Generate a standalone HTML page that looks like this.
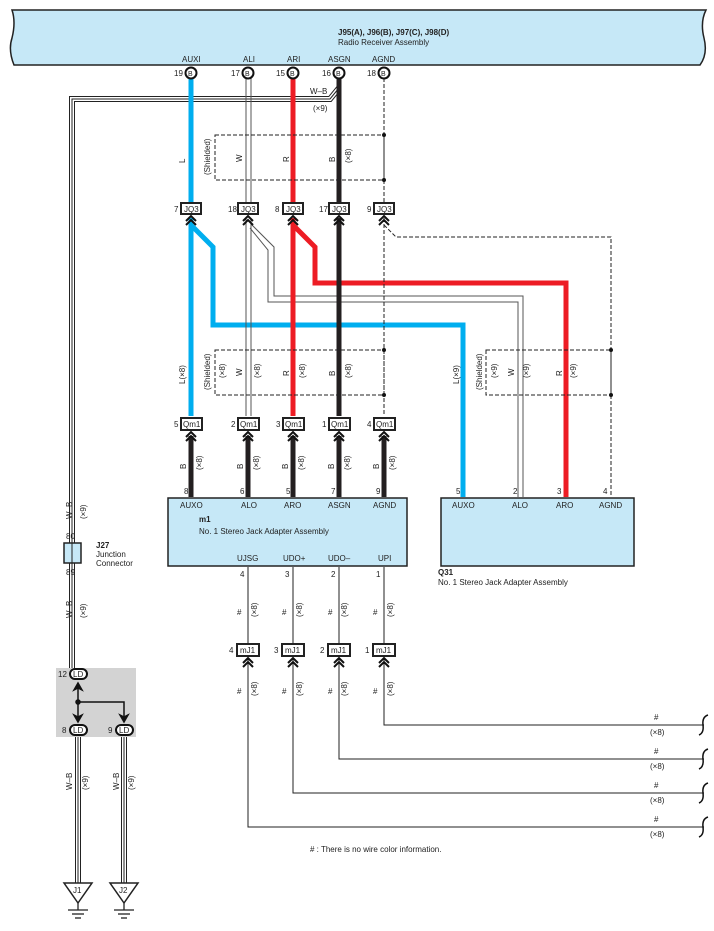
<!DOCTYPE html>
<html><head><meta charset="utf-8"><style>
html,body{margin:0;padding:0;background:#fff}
svg{display:block}
text{font-family:"Liberation Sans",sans-serif;font-size:8px;fill:#222}
.b{font-weight:bold}
</style></head><body>
<svg width="714" height="931" viewBox="0 0 714 931" xmlns="http://www.w3.org/2000/svg">
<defs>
<g id="chev"><path d="M-5,5 L0,0 L5,5 M-5,9 L0,4 L5,9" fill="none" stroke="#111" stroke-width="2"/></g>
</defs>
<!-- header -->
<path d="M12,10 L706,10 Q700,22 704,38 Q708,54 700,65 L14,65 Q8,50 12,38 Q16,22 12,10 Z" fill="#c6e8f7" stroke="#222" stroke-width="1.5"/>
<text x="338" y="35" class="b">J95(A), J96(B), J97(C), J98(D)</text>
<text x="338" y="45">Radio Receiver Assembly</text>
<text x="182" y="62">AUXI</text><text x="243" y="62">ALI</text><text x="287" y="62">ARI</text><text x="328" y="62">ASGN</text><text x="372" y="62">AGND</text>

<!-- W-B wire from ASGN -->
<g fill="none" stroke-linejoin="miter">
<path d="M339,88 L330,99 L72,99 L72,545" stroke="#222" stroke-width="6"/>
<path d="M339,88 L330,99 L72,99 L72,545" stroke="#fff" stroke-width="4"/>
<path d="M339,88 L330,99 L72,99 L72,545" stroke="#222" stroke-width="1"/>
<path d="M72,560 L72,670" stroke="#222" stroke-width="6"/><path d="M72,560 L72,670" stroke="#fff" stroke-width="4"/><path d="M72,560 L72,670" stroke="#222" stroke-width="1"/>
<path d="M78,737 L78,885" stroke="#222" stroke-width="6"/><path d="M78,737 L78,885" stroke="#fff" stroke-width="4"/><path d="M78,737 L78,885" stroke="#222" stroke-width="1"/>
<path d="M124,737 L124,885" stroke="#222" stroke-width="6"/><path d="M124,737 L124,885" stroke="#fff" stroke-width="4"/><path d="M124,737 L124,885" stroke="#222" stroke-width="1"/>
</g>
<text x="310" y="94" >W–B</text><text x="313" y="111">(×9)</text>

<!-- main wires top segment -->
<line x1="191" y1="78" x2="191" y2="205" stroke="#00aeef" stroke-width="5"/>
<line x1="246" y1="78" x2="246" y2="205" stroke="#555" stroke-width="1"/><line x1="251" y1="78" x2="251" y2="205" stroke="#555" stroke-width="1"/>
<line x1="293" y1="78" x2="293" y2="205" stroke="#ed1c24" stroke-width="5"/>
<line x1="339" y1="78" x2="339" y2="205" stroke="#231f20" stroke-width="5"/>
<line x1="384" y1="78" x2="384" y2="205" stroke="#222" stroke-width="1" stroke-dasharray="4,2"/>
<!-- shield 1 -->
<rect x="215" y="135" width="169" height="45" fill="none" stroke="#222" stroke-width="1" stroke-dasharray="4,2"/>
<circle cx="384" cy="135" r="2" fill="#111"/><circle cx="384" cy="180" r="2" fill="#111"/>

<!-- branches -->
<path d="M191,225 L213,247 L213,325 L463,325 L463,497" fill="none" stroke="#00aeef" stroke-width="5"/>
<path d="M293,225 L315,247 L315,283 L566,283 L566,497" fill="none" stroke="#ed1c24" stroke-width="5"/>
<path d="M250,228 L268,250 L268,302 L518,302 L518,497" fill="none" stroke="#555" stroke-width="1"/>
<path d="M252,225 L274,247 L274,296 L523,296 L523,497" fill="none" stroke="#555" stroke-width="1"/>
<path d="M384,225 L396,237 L611,237 L611,497" fill="none" stroke="#222" stroke-width="1" stroke-dasharray="4,2"/>

<!-- main wires middle segment -->
<line x1="191" y1="218" x2="191" y2="416" stroke="#00aeef" stroke-width="5"/>
<line x1="246" y1="218" x2="246" y2="416" stroke="#555" stroke-width="1"/><line x1="251" y1="218" x2="251" y2="416" stroke="#555" stroke-width="1"/>
<line x1="293" y1="218" x2="293" y2="416" stroke="#ed1c24" stroke-width="5"/>
<line x1="339" y1="218" x2="339" y2="416" stroke="#231f20" stroke-width="5"/>
<line x1="384" y1="218" x2="384" y2="416" stroke="#222" stroke-width="1" stroke-dasharray="4,2"/>
<rect x="215" y="350" width="169" height="45" fill="none" stroke="#222" stroke-width="1" stroke-dasharray="4,2"/>
<circle cx="384" cy="350" r="2" fill="#111"/><circle cx="384" cy="395" r="2" fill="#111"/>
<rect x="486" y="350" width="125" height="45" fill="none" stroke="#222" stroke-width="1" stroke-dasharray="4,2"/>
<circle cx="611" cy="350" r="2" fill="#111"/><circle cx="611" cy="395" r="2" fill="#111"/>

<!-- lower black wires -->
<g stroke="#231f20" stroke-width="5">
<line x1="191" y1="436" x2="191" y2="497"/><line x1="248" y1="436" x2="248" y2="497"/><line x1="293" y1="436" x2="293" y2="497"/><line x1="339" y1="436" x2="339" y2="497"/><line x1="384" y1="436" x2="384" y2="497"/>
</g>

<!-- pins B -->
<g fill="#fff" stroke="#111" stroke-width="2">
<circle cx="191" cy="73" r="5.5"/><circle cx="248" cy="73" r="5.5"/><circle cx="293" cy="73" r="5.5"/><circle cx="339" cy="73" r="5.5"/><circle cx="384" cy="73" r="5.5"/>
</g>
<g>
<text x="188" y="76" style="font-size:7px">B</text><text x="245" y="76" style="font-size:7px">B</text><text x="290" y="76" style="font-size:7px">B</text><text x="336" y="76" style="font-size:7px">B</text><text x="381" y="76" style="font-size:7px">B</text>
</g>
<text x="174" y="76">19</text><text x="231" y="76">17</text><text x="276" y="76">15</text><text x="322" y="76">16</text><text x="367" y="76">18</text>

<!-- JQ3 connectors -->
<g fill="#fff" stroke="#222" stroke-width="2">
<rect x="181" y="203" width="20" height="11"/><rect x="238" y="203" width="20" height="11"/><rect x="283" y="203" width="20" height="11"/><rect x="329" y="203" width="20" height="11"/><rect x="374" y="203" width="20" height="11"/>
</g>
<text x="184" y="212">JQ3</text><text x="241" y="212">JQ3</text><text x="286" y="212">JQ3</text><text x="332" y="212">JQ3</text><text x="377" y="212">JQ3</text>
<text x="174" y="212">7</text><text x="228" y="212">18</text><text x="275" y="212">8</text><text x="319" y="212">17</text><text x="367" y="212">9</text>
<use href="#chev" x="191" y="216"/><use href="#chev" x="248" y="216"/><use href="#chev" x="293" y="216"/><use href="#chev" x="339" y="216"/><use href="#chev" x="384" y="216"/>

<!-- Qm1 connectors -->
<g fill="#fff" stroke="#222" stroke-width="2">
<rect x="181" y="418" width="21" height="12"/><rect x="238" y="418" width="21" height="12"/><rect x="283" y="418" width="21" height="12"/><rect x="329" y="418" width="21" height="12"/><rect x="374" y="418" width="21" height="12"/>
</g>
<text x="183" y="427">Qm1</text><text x="240" y="427">Qm1</text><text x="285" y="427">Qm1</text><text x="331" y="427">Qm1</text><text x="376" y="427">Qm1</text>
<text x="174" y="427">5</text><text x="231" y="427">2</text><text x="276" y="427">3</text><text x="322" y="427">1</text><text x="367" y="427">4</text>
<use href="#chev" x="191" y="432"/><use href="#chev" x="248" y="432"/><use href="#chev" x="293" y="432"/><use href="#chev" x="339" y="432"/><use href="#chev" x="384" y="432"/>

<!-- rotated labels -->
<g>
<text transform="translate(185,163) rotate(-90)">L</text>
<text transform="translate(210,175) rotate(-90)">(Shielded)</text>
<text transform="translate(242,162) rotate(-90)">W</text>
<text transform="translate(289,162) rotate(-90)">R</text>
<text transform="translate(335,162) rotate(-90)">B</text>
<text transform="translate(351,163) rotate(-90)">(×8)</text>
<text transform="translate(185,384) rotate(-90)">L(×8)</text>
<text transform="translate(210,390) rotate(-90)">(Shielded)</text>
<text transform="translate(225,378) rotate(-90)">(×8)</text>
<text transform="translate(242,376) rotate(-90)">W</text>
<text transform="translate(260,378) rotate(-90)">(×8)</text>
<text transform="translate(289,376) rotate(-90)">R</text>
<text transform="translate(305,378) rotate(-90)">(×8)</text>
<text transform="translate(335,376) rotate(-90)">B</text>
<text transform="translate(351,378) rotate(-90)">(×8)</text>
<text transform="translate(459,384) rotate(-90)">L(×9)</text>
<text transform="translate(482,390) rotate(-90)">(Shielded)</text>
<text transform="translate(497,378) rotate(-90)">(×9)</text>
<text transform="translate(514,376) rotate(-90)">W</text>
<text transform="translate(529,378) rotate(-90)">(×9)</text>
<text transform="translate(562,376) rotate(-90)">R</text>
<text transform="translate(576,378) rotate(-90)">(×9)</text>
<text transform="translate(186,469) rotate(-90)">B</text><text transform="translate(202,470) rotate(-90)">(×8)</text>
<text transform="translate(243,469) rotate(-90)">B</text><text transform="translate(259,470) rotate(-90)">(×8)</text>
<text transform="translate(288,469) rotate(-90)">B</text><text transform="translate(304,470) rotate(-90)">(×8)</text>
<text transform="translate(334,469) rotate(-90)">B</text><text transform="translate(350,470) rotate(-90)">(×8)</text>
<text transform="translate(379,469) rotate(-90)">B</text><text transform="translate(395,470) rotate(-90)">(×8)</text>
</g>

<!-- m1 box -->
<rect x="168" y="498" width="239" height="68" fill="#c6e8f7" stroke="#222" stroke-width="1.5"/>
<text x="184" y="494">8</text><text x="240" y="494">6</text><text x="286" y="494">5</text><text x="331" y="494">7</text><text x="376" y="494">9</text>
<text x="180" y="508">AUXO</text><text x="241" y="508">ALO</text><text x="284" y="508">ARO</text><text x="328" y="508">ASGN</text><text x="373" y="508">AGND</text>
<text x="199" y="522" class="b">m1</text><text x="199" y="534">No.  1 Stereo Jack Adapter Assembly</text>
<text x="237" y="561">UJSG</text><text x="283" y="561">UDO+</text><text x="328" y="561">UDO–</text><text x="378" y="561">UPI</text>

<!-- Q31 box -->
<rect x="441" y="498" width="193" height="68" fill="#c6e8f7" stroke="#222" stroke-width="1.5"/>
<text x="456" y="494">5</text><text x="513" y="494">2</text><text x="557" y="494">3</text><text x="603" y="494">4</text>
<text x="452" y="508">AUXO</text><text x="512" y="508">ALO</text><text x="556" y="508">ARO</text><text x="599" y="508">AGND</text>
<text x="438" y="575" class="b">Q31</text><text x="438" y="585">No.  1 Stereo Jack Adapter Assembly</text>

<!-- lower lines -->
<g fill="none" stroke="#222" stroke-width="1">
<path d="M248,567 L248,827 L704,827"/>
<path d="M293,567 L293,793 L704,793"/>
<path d="M339,567 L339,759 L704,759"/>
<path d="M384,567 L384,725 L704,725"/>
</g>
<g fill="#fff" stroke="#222" stroke-width="2">
<rect x="237" y="644" width="22" height="12"/><rect x="282" y="644" width="22" height="12"/><rect x="328" y="644" width="22" height="12"/><rect x="373" y="644" width="22" height="12"/>
</g>
<text x="240" y="653">mJ1</text><text x="285" y="653">mJ1</text><text x="331" y="653">mJ1</text><text x="376" y="653">mJ1</text>
<text x="229" y="653">4</text><text x="274" y="653">3</text><text x="320" y="653">2</text><text x="365" y="653">1</text>
<use href="#chev" x="248" y="658"/><use href="#chev" x="293" y="658"/><use href="#chev" x="339" y="658"/><use href="#chev" x="384" y="658"/>
<text x="240" y="577">4</text><text x="285" y="577">3</text><text x="331" y="577">2</text><text x="376" y="577">1</text>
<g>
<text x="237" y="615">#</text><text transform="translate(257,617) rotate(-90)">(×8)</text>
<text x="282" y="615">#</text><text transform="translate(302,617) rotate(-90)">(×8)</text>
<text x="328" y="615">#</text><text transform="translate(347,617) rotate(-90)">(×8)</text>
<text x="373" y="615">#</text><text transform="translate(393,617) rotate(-90)">(×8)</text>
<text x="237" y="694">#</text><text transform="translate(257,696) rotate(-90)">(×8)</text>
<text x="282" y="694">#</text><text transform="translate(302,696) rotate(-90)">(×8)</text>
<text x="328" y="694">#</text><text transform="translate(347,696) rotate(-90)">(×8)</text>
<text x="373" y="694">#</text><text transform="translate(393,696) rotate(-90)">(×8)</text>
</g>
<g>
<text x="654" y="720">#</text><text x="650" y="735">(×8)</text>
<text x="654" y="754">#</text><text x="650" y="769">(×8)</text>
<text x="654" y="788">#</text><text x="650" y="803">(×8)</text>
<text x="654" y="822">#</text><text x="650" y="837">(×8)</text>
</g>
<g fill="none" stroke="#111" stroke-width="1.5">
<path d="M708,715 Q702,717 703,725 Q704,733 699,735"/>
<path d="M708,749 Q702,751 703,759 Q704,767 699,769"/>
<path d="M708,783 Q702,785 703,793 Q704,801 699,803"/>
<path d="M708,817 Q702,819 703,827 Q704,835 699,837"/>
</g>
<text x="310" y="852">#  : There is no wire color information.</text>

<!-- J27 -->
<rect x="64" y="543" width="17" height="20" fill="#c6e8f7" stroke="#222" stroke-width="1.5"/>
<line x1="72" y1="543" x2="72" y2="563" stroke="#222" stroke-width="1"/>
<text x="66" y="539">80</text><text x="66" y="575">89</text>
<text x="96" y="548" class="b">J27</text><text x="96" y="557">Junction</text><text x="96" y="566">Connector</text>
<text transform="translate(72,618) rotate(-90)">W–B</text><text transform="translate(86,618) rotate(-90)">(×9)</text>
<text transform="translate(72,519) rotate(-90)">W–B</text><text transform="translate(86,519) rotate(-90)">(×9)</text>

<!-- LD block -->
<rect x="56" y="668" width="80" height="69" fill="#d3d3d3"/>
<g fill="#fff" stroke="#111" stroke-width="2">
<rect x="70" y="669" width="17" height="10" rx="5"/><rect x="70" y="725" width="17" height="10" rx="5"/><rect x="116" y="725" width="17" height="10" rx="5"/>
</g>
<text x="73" y="677">LD</text><text x="73" y="733">LD</text><text x="119" y="733">LD</text>
<text x="58" y="677">12</text><text x="62" y="733">8</text><text x="108" y="733">9</text>
<g stroke="#111" stroke-width="1.5" fill="#111">
<line x1="78" y1="683" x2="78" y2="720"/>
<path d="M78,702 L124,702 L124,720" fill="none"/>
<circle cx="78" cy="702" r="2"/>
<path d="M74,690 L78,683 L82,690 L78,688Z"/>
<path d="M74,715 L78,722 L82,715 L78,717Z"/><path d="M120,715 L124,722 L128,715 L124,717Z"/>
</g>
<text transform="translate(72,790) rotate(-90)">W–B</text><text transform="translate(88,790) rotate(-90)">(×9)</text>
<text transform="translate(119,790) rotate(-90)">W–B</text><text transform="translate(134,790) rotate(-90)">(×9)</text>

<!-- grounds -->
<g fill="#fff" stroke="#222" stroke-width="1.5">
<path d="M64,883 L92,883 L78,903 Z"/><path d="M110,883 L138,883 L124,903 Z"/>
</g>
<text x="73" y="893">J1</text><text x="119" y="893">J2</text>
<g stroke="#222" stroke-width="1.3">
<line x1="78" y1="903" x2="78" y2="910"/><line x1="68" y1="910" x2="88" y2="910"/><line x1="72" y1="914" x2="84" y2="914"/><line x1="75" y1="918" x2="81" y2="918"/>
<line x1="124" y1="903" x2="124" y2="910"/><line x1="114" y1="910" x2="134" y2="910"/><line x1="118" y1="914" x2="130" y2="914"/><line x1="121" y1="918" x2="127" y2="918"/>
</g>
</svg>
</body></html>
